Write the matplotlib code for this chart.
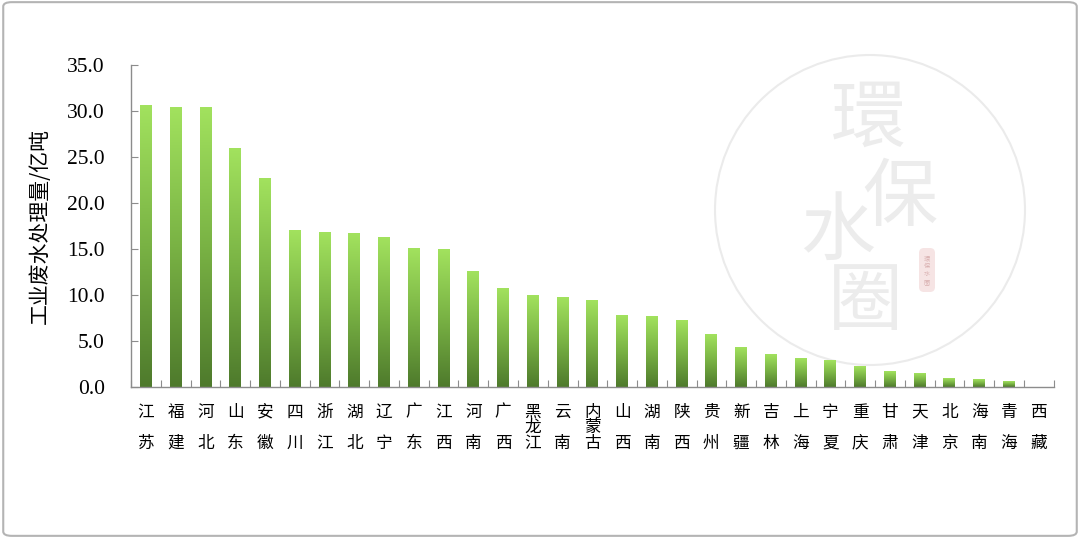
import numpy as np
import matplotlib.pyplot as plt
from matplotlib.colors import LinearSegmentedColormap
from matplotlib.patches import Circle, FancyBboxPatch

plt.rcParams['font.family'] = ['Noto Sans CJK SC', 'DejaVu Sans']

# 各省工业废水处理量(亿吨)
provinces = ['江苏', '福建', '河北', '山东', '安徽', '四川', '浙江', '湖北', '辽宁', '广东',
             '江西', '河南', '广西', '黑龙江', '云南', '内蒙古', '山西', '湖南', '陕西', '贵州',
             '新疆', '吉林', '上海', '宁夏', '重庆', '甘肃', '天津', '北京', '海南', '青海', '西藏']
values = [30.6, 30.4, 30.4, 26.0, 22.7, 17.0, 16.8, 16.7, 16.3, 15.1,
          15.0, 12.6, 10.7, 10.0, 9.7, 9.4, 7.8, 7.7, 7.2, 5.7,
          4.3, 3.5, 3.1, 2.9, 2.2, 1.7, 1.5, 0.95, 0.85, 0.6, 0.0]
y_ticks = [0, 5, 10, 15, 20, 25, 30, 35]

fig = plt.figure(figsize=(10.8, 5.38), dpi=100)

# outer frame
frame = FancyBboxPatch((0.003, 0.004), 0.994, 0.992, boxstyle='round,pad=0,rounding_size=0.008',
                       transform=fig.transFigure, fill=False, edgecolor='#b4b4b4', linewidth=1.5)
fig.patches.append(frame)

# watermark (pixel coords, origin top-left)
wm = fig.add_axes([0, 0, 1, 1], zorder=0)
wm.set_xlim(0, 1080)
wm.set_ylim(538, 0)
wm.axis('off')
wm.add_patch(Circle((870, 210), 155, fill=False, edgecolor='#ebebeb', linewidth=1.5))
for ch, (cx, cy) in zip('環保水圈', [(868, 120), (900, 198), (838, 232), (865, 303)]):
    wm.text(cx, cy, ch, fontsize=54, color='#ececec', ha='center', va='center')
wm.add_patch(FancyBboxPatch((919, 248), 16, 44, boxstyle='round,pad=0,rounding_size=5',
                            facecolor='#f6e4e4', edgecolor='none'))
wm.text(927, 270, '環\n保\n水\n圈', fontsize=4.5, color='#d9b0b0', ha='center', va='center', linespacing=1.0)

ax = fig.add_axes([0.1215, 0.2805, 0.854, 0.598], zorder=1)
ax.patch.set_alpha(0)

cmap = LinearSegmentedColormap.from_list('grn', ['#4e7a2c', '#79b244', '#a2e25e'])
grad = np.linspace(0, 1, 256).reshape(-1, 1)
bar_w = 0.4
x = np.arange(len(provinces))
for xi, v in zip(x, values):
    if v <= 0:
        continue
    ax.imshow(grad, extent=[xi - bar_w / 2, xi + bar_w / 2, 0, v], origin='lower',
              cmap=cmap, aspect='auto', interpolation='bilinear', zorder=2)

ax.set_xlim(-0.5, len(provinces) - 0.5)
ax.set_ylim(0, 35)

for s in ['top', 'right']:
    ax.spines[s].set_visible(False)
for s in ['left', 'bottom']:
    ax.spines[s].set_color('#8c8c8c')
    ax.spines[s].set_linewidth(1.0)

ax.set_yticks(y_ticks)
ax.set_yticklabels([f'{t:.1f}' for t in y_ticks], family='Liberation Serif', fontsize=15.5)
ax.tick_params(axis='y', direction='in', length=5, color='#8c8c8c', pad=19)

# category boundary ticks
ax.set_xticks(np.arange(-0.5, len(provinces), 1.0))
ax.set_xticklabels([])
ax.tick_params(axis='x', direction='in', length=5, color='#8c8c8c')

# vertical category labels, one character at a time
tr = ax.get_xaxis_transform()
for xi, name in zip(x, provinces):
    ys = [-0.078, -0.174] if len(name) == 2 else [-0.078, -0.126, -0.174]
    for ch, yy in zip(name, ys):
        ax.text(xi, yy, ch, ha='center', va='center', fontsize=12,
                transform=tr, clip_on=False)

ax.set_ylabel('工业废水处理量/亿吨', fontsize=15, labelpad=12)

fig.savefig('out.png', dpi=100)
